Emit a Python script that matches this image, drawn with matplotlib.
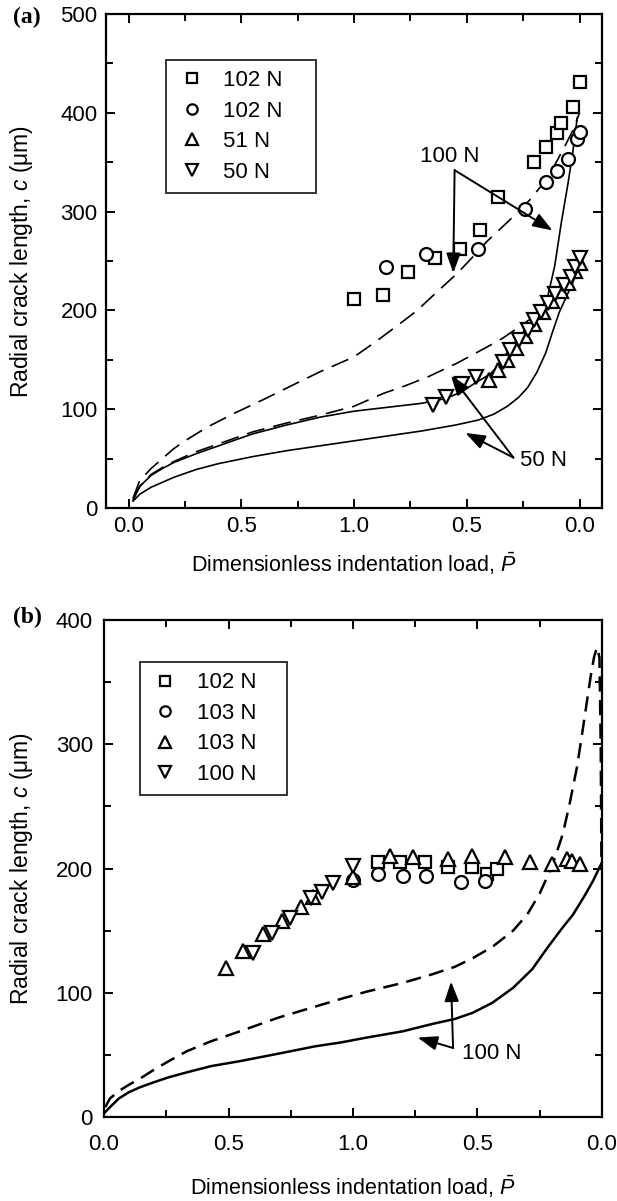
import matplotlib
matplotlib.use("Agg")
import matplotlib.pyplot as plt
from matplotlib.ticker import MultipleLocator, FixedLocator

plt.rcParams['font.family'] = ['Liberation Sans', 'DejaVu Sans']
plt.rcParams['mathtext.fontset'] = 'custom'
plt.rcParams['mathtext.it'] = 'Liberation Sans:italic'
plt.rcParams['mathtext.rm'] = 'Liberation Sans'
plt.rcParams['lines.scale_dashes'] = False

# ---- panel (a) data ----
a_sq_x = [1.00, 1.13, 1.24, 1.36, 1.47, 1.56, 1.64, 1.80, 1.85, 1.90, 1.92, 1.97, 2.00]
a_sq_y = [212, 216, 239, 253, 262, 281, 315, 350, 365, 380, 390, 406, 431]
a_ci_x = [1.14, 1.32, 1.55, 1.76, 1.85, 1.90, 1.95, 1.99, 2.00]
a_ci_y = [244, 257, 262, 303, 330, 341, 353, 374, 381]
a_up_x = [1.60, 1.64, 1.68, 1.72, 1.76, 1.80, 1.84, 1.88, 1.92, 1.95, 1.98, 2.00]
a_up_y = [130, 140, 150, 162, 174, 186, 198, 210, 220, 228, 240, 248]
a_dn_x = [1.35, 1.41, 1.48, 1.54, 1.66, 1.69, 1.73, 1.77, 1.80, 1.83, 1.86, 1.89, 1.93, 1.96, 1.98, 2.00]
a_dn_y = [104, 112, 126, 133, 148, 160, 170, 180, 190, 198, 208, 217, 226, 234, 244, 253]
a_labels = ['102 N', '102 N', '51 N', '50 N']

# model curves (a): dashed / solid for 100 N and 50 N
a_d100_x = [0.02, 0.05, 0.10, 0.15, 0.20, 0.25, 0.35, 0.47, 0.60, 0.76, 0.85, 1.00, 1.10, 1.20,
            1.28, 1.35, 1.46, 1.53, 1.59, 1.66, 1.72, 1.78, 1.83, 1.88, 1.93, 1.97, 2.00]
a_d100_y = [10, 28, 40, 50, 60, 68, 82, 96, 110, 128, 138, 153, 169, 186,
            200, 215, 238, 255, 270, 285, 298, 312, 326, 343, 364, 382, 400]
a_s100_x = [0.02, 0.05, 0.10, 0.15, 0.20, 0.30, 0.40, 0.55, 0.70, 0.85, 1.00, 1.15, 1.30, 1.41,
            1.48, 1.54, 1.60, 1.66, 1.70, 1.74, 1.78, 1.82, 1.86, 1.89, 1.92, 1.95, 1.97, 1.99]
a_s100_y = [8, 22, 33, 40, 46, 55, 63, 75, 84, 92, 98, 102, 106, 111,
            118, 127, 135, 148, 158, 170, 183, 197, 215, 245, 290, 330, 360, 395]
a_d50_x = [0.02, 0.05, 0.10, 0.15, 0.20, 0.30, 0.40, 0.55, 0.70, 0.85, 1.00, 1.13, 1.23, 1.33,
           1.46, 1.59, 1.66, 1.73, 1.78, 1.83, 1.89, 1.93, 1.97, 2.00]
a_d50_y = [9, 22, 34, 41, 47, 57, 65, 77, 86, 94, 103, 116, 124, 133,
           147, 163, 172, 183, 191, 200, 212, 222, 236, 252]
a_s50_x = [0.02, 0.05, 0.10, 0.15, 0.20, 0.30, 0.40, 0.55, 0.70, 0.85, 1.00, 1.15, 1.30, 1.45,
           1.55, 1.62, 1.68, 1.73, 1.77, 1.81, 1.85, 1.88, 1.91, 1.94, 1.97, 2.00]
a_s50_y = [7, 14, 21, 26, 31, 39, 45, 52, 58, 63, 68, 73, 78, 84,
           89, 95, 103, 112, 122, 137, 157, 178, 198, 213, 228, 248]

# ---- panel (b) data ----
b_sq_x = [1.10, 1.19, 1.29, 1.38, 1.48, 1.54, 1.58]
b_sq_y = [205, 205, 205, 201, 201, 196, 200]
b_ci_x = [1.00, 1.10, 1.20, 1.295, 1.435, 1.53]
b_ci_y = [191, 196, 194, 194, 189, 190]
b_up_x = [0.49, 0.56, 0.64, 0.715, 0.79, 0.84, 1.00, 1.15, 1.24, 1.38, 1.48, 1.61, 1.71, 1.80, 1.86, 1.88, 1.91]
b_up_y = [120, 134, 147, 158, 169, 177, 193, 210, 209, 208, 210, 209, 205, 204, 208, 206, 204]
b_dn_x = [0.60, 0.675, 0.745, 0.83, 0.875, 0.92, 1.00]
b_dn_y = [132, 148, 160, 176, 181, 188, 202]
b_labels = ['102 N', '103 N', '103 N', '100 N']

b_d_x = [0.005, 0.024, 0.06, 0.10, 0.145, 0.20, 0.26, 0.333, 0.43, 0.546, 0.70, 0.85, 0.95, 1.056,
         1.20, 1.32, 1.41, 1.482, 1.56, 1.643, 1.70, 1.75, 1.80, 1.843, 1.87, 1.90, 1.92, 1.94,
         1.955, 1.968, 1.98, 1.99, 1.995, 1.998]
b_d_y = [8, 15, 21, 26, 31, 38, 45, 53, 61, 69, 80, 89, 95, 101,
         108, 115, 121, 128, 137, 150, 163, 180, 202, 228, 252, 282, 308, 335,
         355, 370, 378, 370, 300, 205]
b_s_x = [0.005, 0.024, 0.06, 0.10, 0.145, 0.20, 0.26, 0.333, 0.43, 0.546, 0.70, 0.85, 0.95, 1.056,
         1.20, 1.32, 1.41, 1.482, 1.56, 1.643, 1.72, 1.78, 1.84, 1.884, 1.93, 1.964, 2.00]
b_s_y = [4, 8, 15, 20, 24, 28, 32, 36, 41, 45, 51, 57, 60, 64,
         69, 75, 79, 84, 92, 104, 119, 136, 152, 163, 178, 190, 205]

xtick_pos = [0.0, 0.5, 1.0, 1.5, 2.0]
xtick_lab = ['0.0', '0.5', '1.0', '0.5', '0.0']

fig = plt.figure(figsize=(6.17, 12.01), dpi=100)
ax1 = fig.add_axes([0.1718, 0.577, 0.804, 0.4113])
ax2 = fig.add_axes([0.1686, 0.0699, 0.807, 0.4138])

mk = dict(linestyle='none', mfc='white', mec='black', mew=1.6)
arrow = dict(arrowstyle='-|>,head_length=0.6,head_width=0.22', color='black',
             lw=1.4, mutation_scale=20, shrinkA=0, shrinkB=0)


def style(ax, ylim, ymaj, xlim, xpad, ypad):
    ax.set_xlim(*xlim)
    ax.set_ylim(*ylim)
    ax.xaxis.set_major_locator(FixedLocator(xtick_pos))
    ax.set_xticklabels(xtick_lab)
    ax.xaxis.set_minor_locator(MultipleLocator(0.25))
    ax.yaxis.set_major_locator(MultipleLocator(ymaj))
    ax.yaxis.set_minor_locator(MultipleLocator(ymaj / 2))
    ax.tick_params(which='both', direction='in', top=True, right=True, width=1.4)
    ax.tick_params(which='major', length=6.5, labelsize=16)
    ax.tick_params(which='minor', length=5)
    ax.tick_params(axis='x', which='major', pad=xpad)
    ax.tick_params(axis='y', which='major', pad=ypad)
    for s in ax.spines.values():
        s.set_linewidth(1.6)


def legend(ax, handles, labels, x0, y0, w):
    leg = ax.legend(handles, labels, loc='upper left', bbox_to_anchor=(x0, 0.0, w, y0),
                    mode='expand', fontsize=16, frameon=True, fancybox=False,
                    edgecolor='black', markerscale=0.8, handlelength=1.4,
                    handletextpad=0.7, labelspacing=0.43, borderpad=0.45, borderaxespad=0)
    leg.get_frame().set_linewidth(1.4)


# ---- panel (a) ----
ax1.plot(a_d100_x, a_d100_y, color='black', lw=1.2, dashes=(13, 6.5))
ax1.plot(a_s100_x, a_s100_y, color='black', lw=1.2)
ax1.plot(a_d50_x, a_d50_y, color='black', lw=1.2, dashes=(13, 6.5))
ax1.plot(a_s50_x, a_s50_y, color='black', lw=1.2)
h1 = [ax1.plot(a_sq_x, a_sq_y, marker='s', ms=8.5, **mk)[0],
      ax1.plot(a_ci_x, a_ci_y, marker='o', ms=9.3, **mk)[0],
      ax1.plot(a_up_x, a_up_y, marker='^', ms=10, **mk)[0],
      ax1.plot(a_dn_x, a_dn_y, marker='v', ms=10, **mk)[0]]

ax1.annotate('', xy=(1.44, 238), xytext=(1.446, 342), arrowprops=arrow)
ax1.annotate('', xy=(1.88, 281), xytext=(1.446, 342), arrowprops=arrow)
ax1.text(1.423, 356, '100 N', fontsize=16, ha='center', va='center')
ax1.annotate('', xy=(1.43, 134), xytext=(1.707, 51), arrowprops=arrow)
ax1.annotate('', xy=(1.494, 76), xytext=(1.707, 51), arrowprops=arrow)
ax1.text(1.84, 48.6, '50 N', fontsize=16, ha='center', va='center')

style(ax1, (0, 500), 100, (-0.1, 2.1), 6, 6)
ax1.set_xlabel(r'Dimensionless indentation load, $\bar{P}$', fontsize=15.5, labelpad=10)
ax1.set_ylabel(r'Radial crack length, $c$ (μm)', fontsize=16.5)
ax1.yaxis.set_label_coords(-0.143, 0.5)
legend(ax1, h1, a_labels, 0.121, 0.907, 0.302)

# ---- panel (b) ----
ax2.plot(b_d_x, b_d_y, color='black', lw=1.8, dashes=(11, 6))
ax2.plot(b_s_x, b_s_y, color='black', lw=1.8)
h2 = [ax2.plot(b_sq_x, b_sq_y, marker='s', ms=8.5, **mk)[0],
      ax2.plot(b_ci_x, b_ci_y, marker='o', ms=9.3, **mk)[0],
      ax2.plot(b_up_x, b_up_y, marker='^', ms=10, **mk)[0],
      ax2.plot(b_dn_x, b_dn_y, marker='v', ms=10, **mk)[0]]

ax2.annotate('', xy=(1.394, 109), xytext=(1.402, 55.6), arrowprops=arrow)
ax2.annotate('', xy=(1.26, 64), xytext=(1.402, 55.6), arrowprops=arrow)
ax2.text(1.437, 51, '100 N', fontsize=16, ha='left', va='center')

style(ax2, (0, 400), 100, (0, 2), 12, 8)
ax2.set_xlabel(r'Dimensionless indentation load, $\bar{P}$', fontsize=15.5, labelpad=14)
ax2.set_ylabel(r'Radial crack length, $c$ (μm)', fontsize=16.5)
ax2.yaxis.set_label_coords(-0.139, 0.5)
legend(ax2, h2, b_labels, 0.072, 0.915, 0.295)

fig.text(13 / 617, 1 - 17 / 1201, '(a)', fontsize=17, fontweight='bold',
         family='Liberation Serif', ha='left', va='center')
fig.text(13 / 617, 1 - 617 / 1201, '(b)', fontsize=17, fontweight='bold',
         family='Liberation Serif', ha='left', va='center')

fig.savefig('out.png', dpi=100)
